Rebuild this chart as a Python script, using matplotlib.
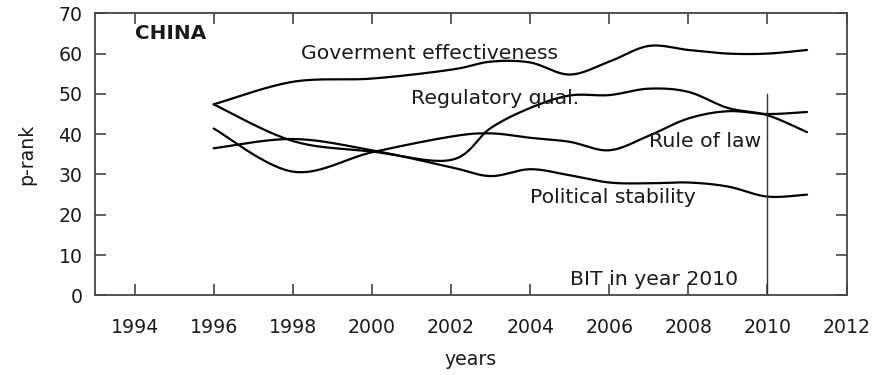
import numpy as np
import matplotlib
matplotlib.use("Agg")
import matplotlib.pyplot as plt

plt.rcParams['font.family'] = ['DejaVu Sans']

# Governance indicators for China (percentile rank)
years = [1996, 1998, 2000, 2002, 2003, 2004, 2005, 2006, 2007, 2008, 2009, 2010, 2011]
gov_effectiveness = [47.4, 53.0, 53.8, 56.0, 58.0, 57.8, 54.8, 58.0, 61.9, 60.9, 60.0, 60.0, 60.9]
regulatory_quality = [47.4, 38.3, 35.7, 33.6, 41.5, 46.5, 49.6, 49.7, 51.3, 50.5, 46.5, 44.7, 40.5]
rule_of_law = [41.4, 30.7, 35.5, 39.4, 40.2, 39.1, 38.1, 36.0, 39.6, 43.9, 45.7, 45.0, 45.5]
political_stability = [36.5, 38.8, 36.0, 31.8, 29.6, 31.3, 29.8, 28.0, 27.8, 28.0, 27.0, 24.5, 25.0]

x_ticks = [1994, 1996, 1998, 2000, 2002, 2004, 2006, 2008, 2010, 2012]
y_ticks = [0, 10, 20, 30, 40, 50, 60, 70]

bit_year = 2010
bit_line_top = 50


def smooth_curve(xs, ys, n=40):
    """Smoothed line through the points (Bezier with Catmull-Rom style handles)."""
    P = np.column_stack([xs, ys]).astype(float)
    out = []
    for i in range(len(P) - 1):
        p0 = P[i - 1] if i > 0 else P[i]
        p1, p2 = P[i], P[i + 1]
        p3 = P[i + 2] if i + 2 < len(P) else P[i + 1]
        c1 = p1 + (p2 - p0) / 6.0
        c2 = p2 - (p3 - p1) / 6.0
        t = np.linspace(0, 1, n)[:, None]
        seg = ((1 - t) ** 3) * p1 + 3 * ((1 - t) ** 2) * t * c1 \
            + 3 * (1 - t) * t ** 2 * c2 + t ** 3 * p2
        out.append(seg if i == 0 else seg[1:])
    return np.vstack(out)


fig = plt.figure(figsize=(8.8, 3.75), dpi=100)
ax = fig.add_axes([0.108, 0.2125, 0.854, 0.752])

for series in (gov_effectiveness, regulatory_quality, rule_of_law, political_stability):
    c = smooth_curve(years, series)
    ax.plot(c[:, 0], c[:, 1], color='black', lw=1.6, solid_capstyle='round')

ax.plot([bit_year, bit_year], [0, bit_line_top], color='#333333', lw=1.0)

ax.set_xlim(1993, 2012)
ax.set_ylim(0, 70)
ax.set_xticks(x_ticks)
ax.set_yticks(y_ticks)

txt = '#1a1a1a'
fs = 13.6
ax.tick_params(axis='both', direction='in', length=8, width=1.2, color='#444444',
               labelsize=fs, labelcolor=txt, top=True, right=True)
ax.tick_params(axis='x', pad=16)
ax.tick_params(axis='y', pad=9)
for s in ax.spines.values():
    s.set_color('#444444')
    s.set_linewidth(1.3)

ax.set_xlabel('years', fontsize=fs, color=txt, labelpad=10)
ax.set_ylabel('p-rank', fontsize=fs, color=txt, labelpad=16)

label_font = dict(fontsize=14.7, color=txt, ha='left', va='center')
ax.text(1994.0, 65.1, 'CHINA', fontsize=14.4, fontweight='bold', color=txt,
        ha='left', va='center')
ax.text(1998.2, 60.0, 'Goverment effectiveness', **label_font)
ax.text(2001.0, 48.9, 'Regulatory qual.', **label_font)
ax.text(2007.0, 38.1, 'Rule of law', **label_font)
ax.text(2004.0, 24.3, 'Political stability', **label_font)
ax.text(2005.0, 4.0, 'BIT in year 2010', **label_font)

fig.savefig('out.png', dpi=100)
